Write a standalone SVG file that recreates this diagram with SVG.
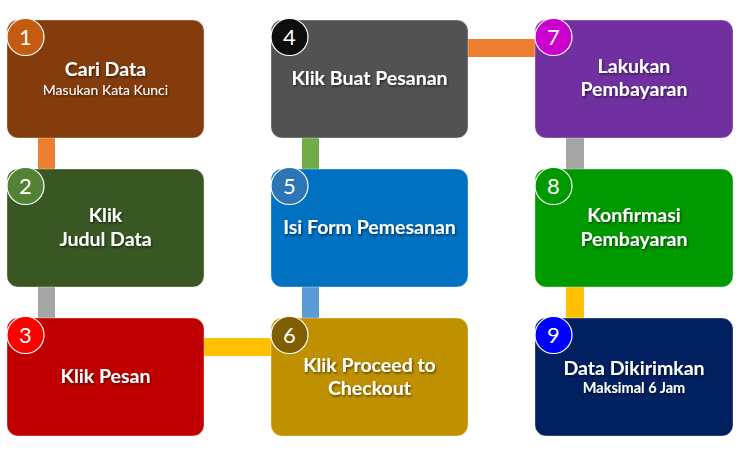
<svg xmlns="http://www.w3.org/2000/svg" width="745" height="450" viewBox="0 0 745 450">
<defs>
<filter id="ts" x="-10%" y="-30%" width="130%" height="180%">
<feDropShadow dx="1" dy="1.5" stdDeviation="1" flood-color="#000" flood-opacity="0.55"/>
</filter>
</defs>
<style>
.card{stroke:#ffffff;stroke-opacity:0.35;stroke-width:1}
.num{stroke:#ffffff;stroke-width:1.2}
.nt{font-family:Lato,"Liberation Sans",sans-serif;font-size:22px;fill:#fff;text-anchor:middle}
.t{font-family:Lato,"Liberation Sans",sans-serif;font-weight:bold;font-size:19.5px;fill:#fff;text-anchor:middle}
.s{font-family:Lato,"Liberation Sans",sans-serif;font-size:14px;fill:#fff;text-anchor:middle}
.sb{font-family:Lato,"Liberation Sans",sans-serif;font-weight:bold;font-size:14.5px;fill:#fff;text-anchor:middle}
</style>
<rect width="745" height="450" fill="#ffffff"/>
<g id="connectors">
<rect x="38" y="138" width="17" height="31" fill="#ED7D31"/>
<rect x="38" y="287" width="17" height="31" fill="#A5A5A5"/>
<rect x="302" y="138" width="17" height="31" fill="#70AD47"/>
<rect x="302" y="287" width="17" height="31" fill="#5B9BD5"/>
<rect x="566" y="138" width="18" height="31" fill="#A5A5A5"/>
<rect x="566" y="287" width="18" height="31" fill="#FFC000"/>
<rect x="468" y="39" width="67" height="18" fill="#ED7D31"/>
<rect x="204" y="338" width="67" height="18" fill="#FFC000"/>
</g>
<g id="node1">
<rect class="card" x="7" y="20" width="197" height="118" rx="11" fill="#843C0C"/>
<circle class="num" cx="25.5" cy="37" r="18.5" fill="#C55A11"/>
<text class="nt" x="25.5" y="45">1</text>
<text class="t" x="105.5" y="76" filter="url(#ts)">Cari Data</text>
<text class="s" x="105.5" y="95" filter="url(#ts)">Masukan Kata Kunci</text>
</g>
<g id="node2">
<rect class="card" x="7" y="169" width="197" height="118" rx="11" fill="#385723"/>
<circle class="num" cx="25.5" cy="186" r="18.5" fill="#548235"/>
<text class="nt" x="25.5" y="194">2</text>
<text class="t" x="105.5" y="222" filter="url(#ts)">Klik</text>
<text class="t" x="105.5" y="246" filter="url(#ts)">Judul Data</text>
</g>
<g id="node3">
<rect class="card" x="7" y="318" width="197" height="118" rx="11" fill="#C00000"/>
<circle class="num" cx="25.5" cy="335" r="18.5" fill="#FF0000"/>
<text class="nt" x="25.5" y="343">3</text>
<text class="t" x="105.5" y="383" filter="url(#ts)">Klik Pesan</text>
</g>
<g id="node4">
<rect class="card" x="271" y="20" width="197" height="118" rx="11" fill="#525252"/>
<circle class="num" cx="289.5" cy="37" r="18.5" fill="#0D0D0D"/>
<text class="nt" x="289.5" y="45">4</text>
<text class="t" x="369.5" y="85" filter="url(#ts)">Klik Buat Pesanan</text>
</g>
<g id="node5">
<rect class="card" x="271" y="169" width="197" height="118" rx="11" fill="#0070C0"/>
<circle class="num" cx="289.5" cy="186" r="18.5" fill="#2E75B6"/>
<text class="nt" x="289.5" y="194">5</text>
<text class="t" x="369.5" y="234" filter="url(#ts)">Isi Form Pemesanan</text>
</g>
<g id="node6">
<rect class="card" x="271" y="318" width="197" height="118" rx="11" fill="#BF9000"/>
<circle class="num" cx="289.5" cy="335" r="18.5" fill="#7F6000"/>
<text class="nt" x="289.5" y="343">6</text>
<text class="t" x="369.5" y="372" filter="url(#ts)">Klik Proceed to</text>
<text class="t" x="369.5" y="395" filter="url(#ts)">Checkout</text>
</g>
<g id="node7">
<rect class="card" x="535" y="20" width="198" height="118" rx="11" fill="#7030A0"/>
<circle class="num" cx="553.5" cy="37" r="18.5" fill="#CC00CC"/>
<text class="nt" x="553.5" y="45">7</text>
<text class="t" x="634" y="73" filter="url(#ts)">Lakukan</text>
<text class="t" x="634" y="96" filter="url(#ts)">Pembayaran</text>
</g>
<g id="node8">
<rect class="card" x="535" y="169" width="198" height="118" rx="11" fill="#009900"/>
<circle class="num" cx="553.5" cy="186" r="18.5" fill="#009900"/>
<text class="nt" x="553.5" y="194">8</text>
<text class="t" x="634" y="222" filter="url(#ts)">Konfirmasi</text>
<text class="t" x="634" y="246" filter="url(#ts)">Pembayaran</text>
</g>
<g id="node9">
<rect class="card" x="535" y="318" width="198" height="118" rx="11" fill="#002060"/>
<circle class="num" cx="553.5" cy="335" r="18.5" fill="#0000FF"/>
<text class="nt" x="553.5" y="343">9</text>
<text class="t" x="634" y="375" filter="url(#ts)">Data Dikirimkan</text>
<text class="sb" x="634" y="393" filter="url(#ts)">Maksimal 6 Jam</text>
</g>
</svg>
